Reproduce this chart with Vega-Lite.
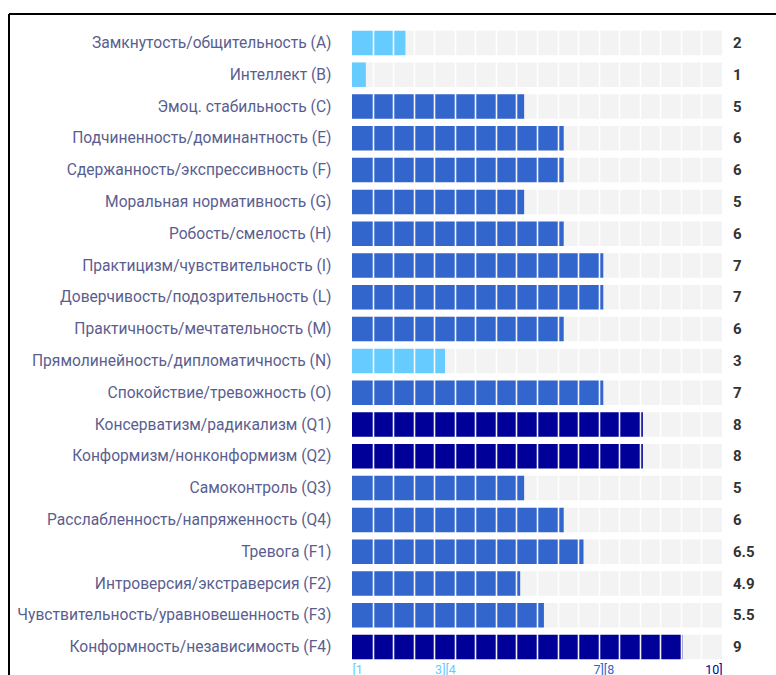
{
  "$schema": "https://vega.github.io/schema/vega-lite/v6.json",
  "autosize": {"type": "none"},
  "padding": {"left": 9, "top": 14, "right": 0, "bottom": 0},
  "width": 767,
  "height": 661,
  "background": "white",
  "config": {
    "font": "Roboto",
    "view": {"stroke": "black", "strokeWidth": 2, "strokeDash": [767, 1428, 661, 0]}
  },
  "data": {
    "values": [
      {"name": "Замкнутость/общительность (A)", "value": 2},
      {"name": "Интеллект (B)", "value": 1},
      {"name": "Эмоц. стабильность (C)", "value": 5},
      {"name": "Подчиненность/доминантность (E)", "value": 6},
      {"name": "Сдержанность/экспрессивность (F)", "value": 6},
      {"name": "Моральная нормативность (G)", "value": 5},
      {"name": "Робость/смелость (H)", "value": 6},
      {"name": "Практицизм/чувствительность (I)", "value": 7},
      {"name": "Доверчивость/подозрительность (L)", "value": 7},
      {"name": "Практичность/мечтательность (M)", "value": 6},
      {"name": "Прямолинейность/дипломатичность (N)", "value": 3},
      {"name": "Спокойствие/тревожность (O)", "value": 7},
      {"name": "Консерватизм/радикализм (Q1)", "value": 8},
      {"name": "Конформизм/нонконформизм (Q2)", "value": 8},
      {"name": "Самоконтроль (Q3)", "value": 5},
      {"name": "Расслабленность/напряженность (Q4)", "value": 6},
      {"name": "Тревога (F1)", "value": 6.5},
      {"name": "Интроверсия/экстраверсия (F2)", "value": 4.9},
      {"name": "Чувствительность/уравновешенность (F3)", "value": 5.5},
      {"name": "Конформность/независимость (F4)", "value": 9}
    ]
  },
  "encoding": {
    "y": {
      "field": "name",
      "type": "nominal",
      "sort": null,
      "title": null,
      "scale": {"range": [13, 649], "paddingInner": 0.23, "paddingOuter": 0.115},
      "axis": {
        "orient": "left",
        "offset": -324,
        "domain": false,
        "ticks": false,
        "labelPadding": 2,
        "labelFontSize": 15.6,
        "labelColor": "#5a5e8f",
        "labelLimit": 400,
        "labelFont": "Roboto"
      }
    }
  },
  "layer": [
    {
      "mark": {"type": "bar", "color": "#f3f3f3"},
      "encoding": {
        "x": {
          "datum": 10,
          "type": "quantitative",
          "scale": {"domain": [0.65, 10], "range": [343, 713], "zero": false, "nice": false},
          "title": null,
          "axis": {
            "orient": "bottom",
            "offset": -12,
            "zindex": 1,
            "domain": false,
            "ticks": false,
            "grid": true,
            "gridColor": "white",
            "gridWidth": 1.6,
            "tickCount": 200,
            "gridOpacity": {
              "condition": {"test": "datum.value == 0.65 || datum.value == 2.999 || datum.value == 3.001 || datum.value == 6.999 || datum.value == 7.001 || datum.value == 10", "value": 0},
              "value": 0.95
            },
            "values": [0.65, 1.1694, 1.6889, 2.2083, 2.7278, 2.999, 3.001, 3.2472, 3.7667, 4.2861, 4.8056, 5.325, 5.8444, 6.3639, 6.8833, 6.999, 7.001, 7.4028, 7.9222, 8.4417, 8.9611, 9.4806, 10],
            "labelExpr": "datum.value == 0.65 ? '[1' : datum.value == 2.999 ? '3]' : datum.value == 3.001 ? '[4' : datum.value == 6.999 ? '7]' : datum.value == 7.001 ? '[8' : datum.value == 10 ? '10]' : ''",
            "labelAlign": {
              "condition": {"test": "datum.value == 0.65 || datum.value == 3.001 || datum.value == 7.001", "value": "left"},
              "value": "right"
            },
            "labelColor": {
              "condition": [
                {"test": "datum.value < 3.5", "value": "#66ccff"},
                {"test": "datum.value < 7.5", "value": "#3366cc"}
              ],
              "value": "#000099"
            },
            "labelBaseline": "alphabetic",
            "labelPadding": 10,
            "labelFontSize": 12.5,
            "labelOverlap": false,
            "labelFlush": false,
            "labelBound": false
          }
        },
        "x2": {"datum": 0.65}
      }
    },
    {
      "mark": {"type": "bar"},
      "encoding": {
        "x": {"field": "value", "type": "quantitative"},
        "x2": {"datum": 0.65},
        "color": {
          "field": "value",
          "type": "quantitative",
          "scale": {"type": "threshold", "domain": [3.5, 7.5], "range": ["#66ccff", "#3366cc", "#000099"]},
          "legend": null
        }
      }
    },
    {
      "mark": {"type": "text", "align": "left", "dx": 11, "fontSize": 15, "fontWeight": "bold", "color": "#333333"},
      "encoding": {
        "x": {"datum": 10, "type": "quantitative"},
        "text": {"field": "value", "type": "quantitative"}
      }
    }
  ]
}
